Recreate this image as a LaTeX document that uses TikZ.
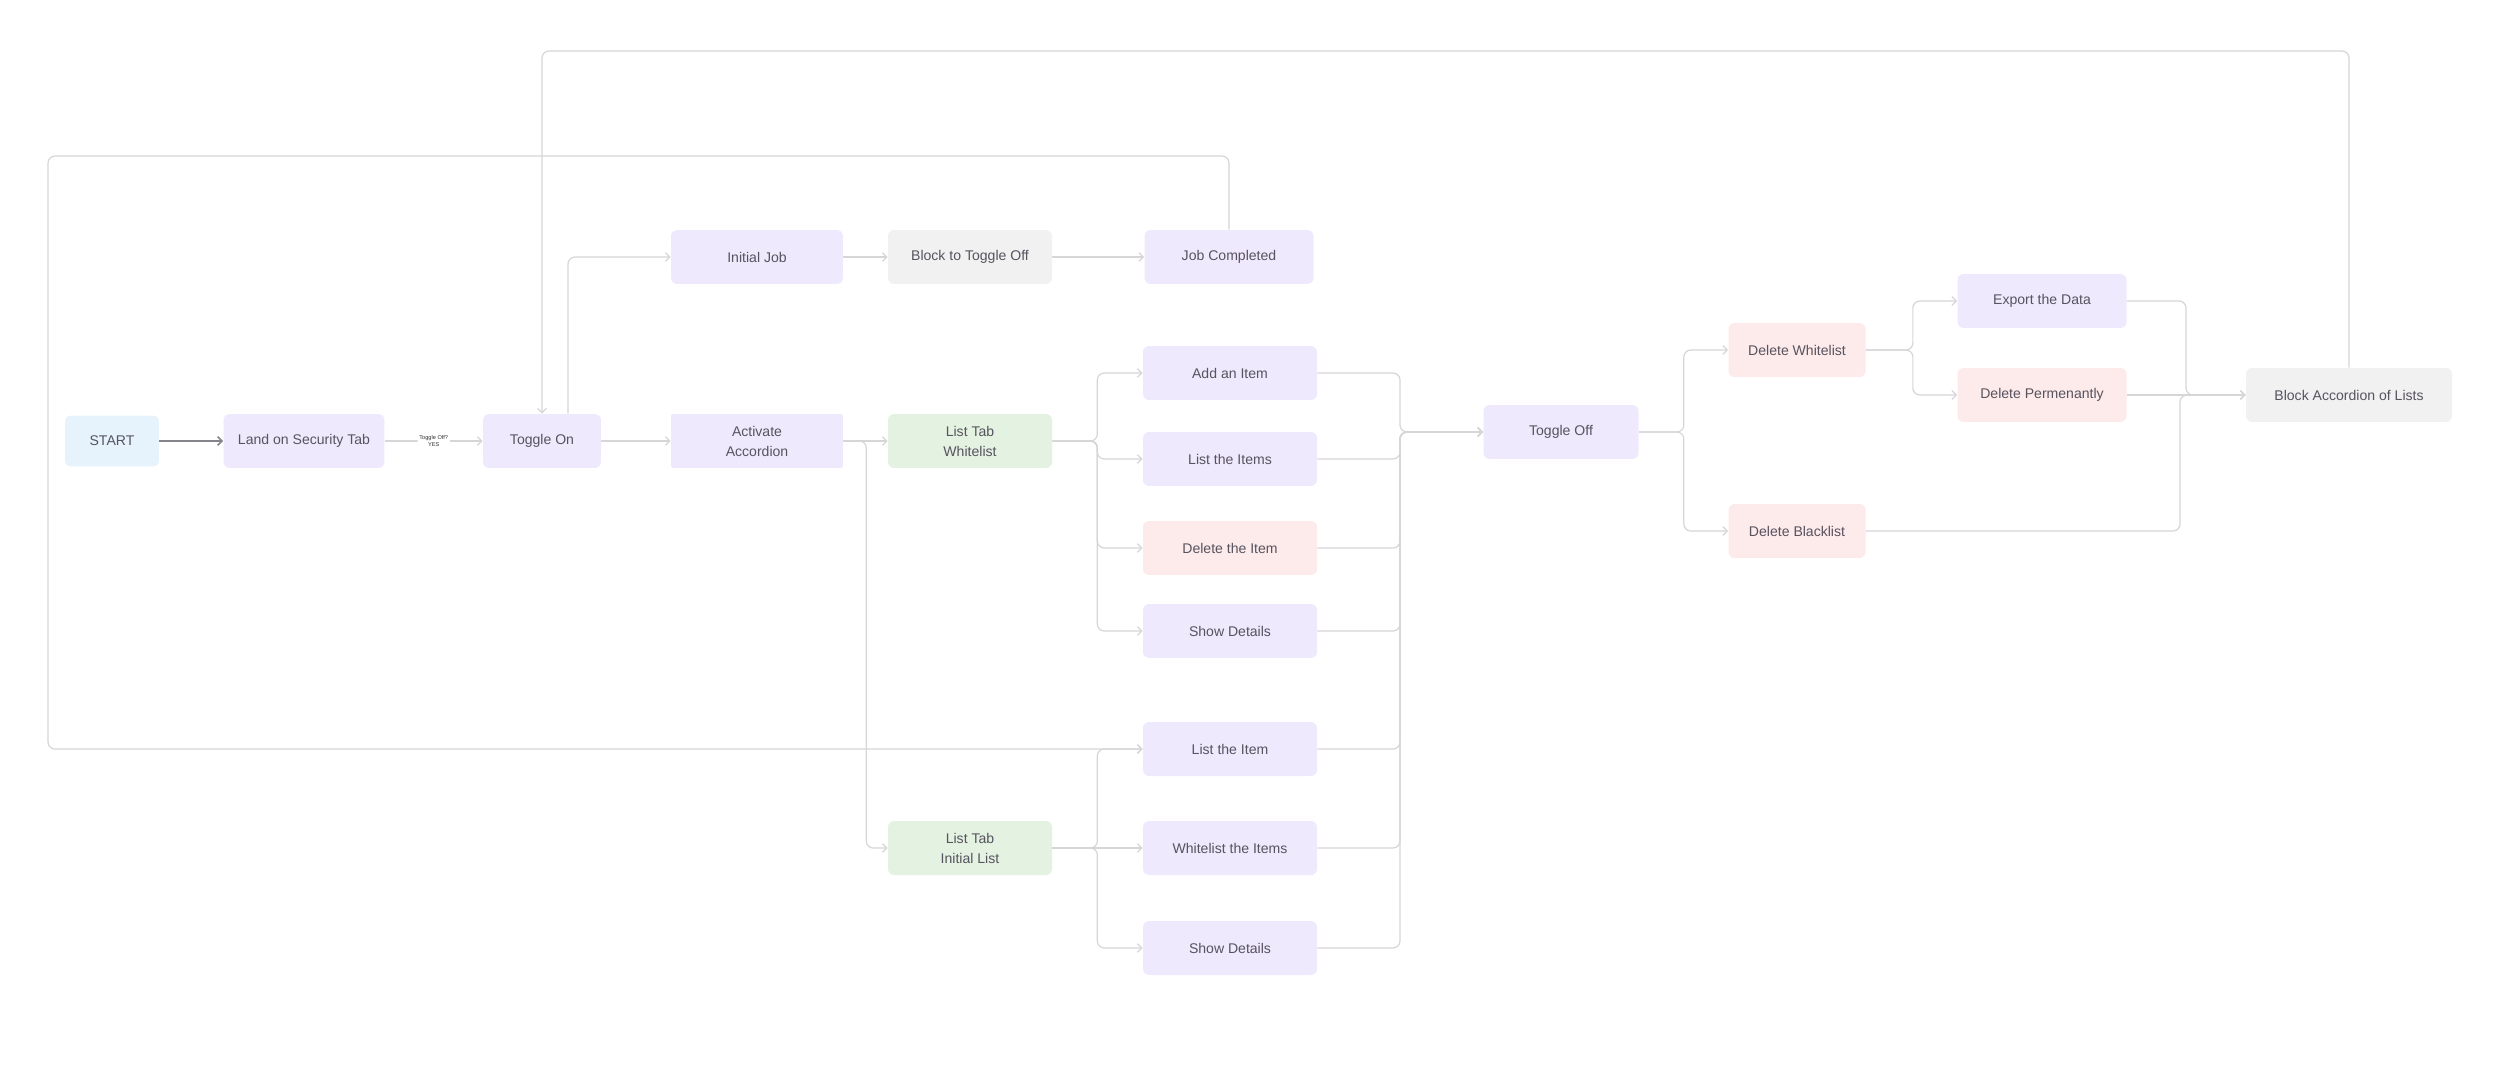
\documentclass[tikz,border=0pt]{standalone}
\usepackage{fontspec}
\setmainfont{Liberation Sans}
\usetikzlibrary{arrows.meta}
\definecolor{lilac}{HTML}{EFE9FD}
\definecolor{sky}{HTML}{E6F3FD}
\definecolor{mint}{HTML}{E4F2E1}
\definecolor{blush}{HTML}{FDEAEA}
\definecolor{stone}{HTML}{F1F1F1}
\definecolor{ink}{HTML}{57535F}
\definecolor{wire}{HTML}{D6D6D8}
\definecolor{wiredark}{HTML}{84848C}

\begin{document}
\begin{tikzpicture}[x=0.02cm,y=-0.02cm,
  box/.style={rounded corners=0.12cm, minimum height=1.08cm, inner sep=0pt, align=center,
    text=ink, font=\fontsize{8}{11.4}\selectfont},
  purplebox/.style={box, fill=lilac},
  bluebox/.style={box, fill=sky},
  greenbox/.style={box, fill=mint},
  pinkbox/.style={box, fill=blush},
  graybox/.style={box, fill=stone},
  conn/.style={draw=wire, line width=0.7pt, rounded corners=0.14cm,
    -{Straight Barb[length=2.5pt,width=5pt]}},
]
\useasboundingbox (0,0) rectangle (2500,1084);
\node[bluebox, minimum width=1.88cm, minimum height=1.02cm] (start) at (112,441) {START};
\node[purplebox, minimum width=3.22cm] (land) at (304,441) {Land on Security Tab};
\node[purplebox, minimum width=2.36cm] (ton) at (542,441) {Toggle On};
\node[purplebox, minimum width=3.44cm] (ij) at (757,257) {Initial Job};
\node[graybox, minimum width=3.28cm] (btog) at (970,257) {Block to Toggle Off};
\node[purplebox, minimum width=3.38cm] (jc) at (1229,257) {Job Completed};
\node[purplebox, minimum width=3.44cm, rounded corners=0.04cm] (act) at (757,441) {Activate\\Accordion};
\node[greenbox, minimum width=3.28cm] (wl) at (970,441) {List Tab\\Whitelist};
\node[purplebox, minimum width=3.48cm] (add) at (1230,373) {Add an Item};
\node[purplebox, minimum width=3.48cm] (lis) at (1230,459) {List the Items};
\node[pinkbox, minimum width=3.48cm] (del) at (1230,548) {Delete the Item};
\node[purplebox, minimum width=3.48cm] (shw) at (1230,631) {Show Details};
\node[purplebox, minimum width=3.48cm] (lit) at (1230,749) {List the Item};
\node[greenbox, minimum width=3.28cm] (ilt) at (970,848) {List Tab\\Initial List};
\node[purplebox, minimum width=3.48cm] (wli) at (1230,848) {Whitelist the Items};
\node[purplebox, minimum width=3.48cm] (sh2) at (1230,948) {Show Details};
\node[purplebox, minimum width=3.10cm] (toff) at (1561,432) {Toggle Off};
\node[pinkbox, minimum width=2.74cm] (dwl) at (1797,350) {Delete Whitelist};
\node[pinkbox, minimum width=2.74cm] (dbl) at (1797,531) {Delete Blacklist};
\node[purplebox, minimum width=3.38cm] (exp) at (2042,301) {Export the Data};
\node[pinkbox, minimum width=3.38cm] (dpm) at (2042,395) {Delete Permenantly};
\node[graybox, minimum width=4.12cm] (bac) at (2349,395) {Block Accordion of Lists};
\coordinate (mrg) at (1400,432);
\coordinate (jexp) at (2186,395);
\coordinate (jdbl) at (2180,395);
\coordinate (loopA) at (542,51);
\coordinate (loopB) at (48,156);
\draw[conn, draw=wiredark, line width=0.9pt] (start) -- (land);
\draw[conn] (land) -- node[fill=white, inner sep=1pt, align=center, text=black!80,
  font=\fontsize{3.2}{4.5}\selectfont] (ask) {Toggle Off?\\YES} (ton);
\draw[conn] (ton) -- (act);
\draw[conn] ([xshift=0.52cm]ton.north) |- (ij.west);
\draw[conn] (ij) -- (btog);
\draw[conn] (btog) -- (jc);
\draw[conn] (act) -- (wl);
\draw[conn] (act.east) -- ++(23,0) |- (ilt.west);
\foreach \t in {add,lis,del,shw} \draw[conn] (wl.east) -- ++(45,0) |- (\t.west);
\foreach \t in {lit,sh2} \draw[conn] (ilt.east) -- ++(45,0) |- (\t.west);
\draw[conn] (ilt) -- (wli);
\foreach \s in {add,lis,del,shw,lit,wli,sh2} \draw[conn] (\s.east) -| (mrg) -- (toff.west);
\foreach \t in {dwl,dbl} \draw[conn] (toff.east) -- ++(45,0) |- (\t.west);
\foreach \t in {exp,dpm} \draw[conn] (dwl.east) -- ++(47,0) |- (\t.west);
\draw[conn] (exp.east) -| (jexp) -- (bac.west);
\draw[conn] (dpm) -- (bac);
\draw[conn] (dbl.east) -| (jdbl) -- (bac.west);
\draw[conn] (bac.north) |- (loopA) -- (ton.north);
\draw[conn] (jc.north) |- (loopB) |- (lit.west);
\end{tikzpicture}
\end{document}
